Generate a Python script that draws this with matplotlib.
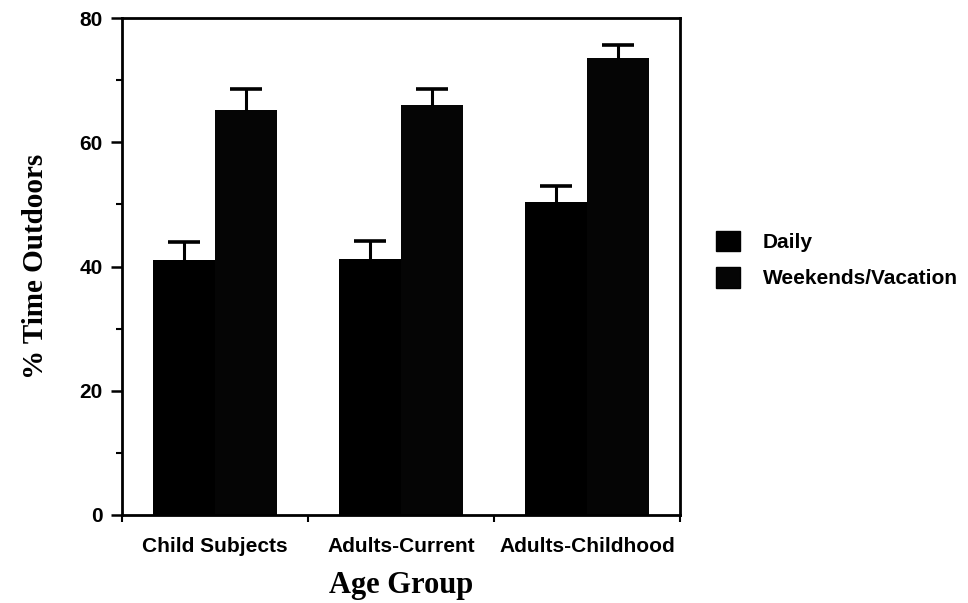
import numpy as np
import matplotlib.pyplot as plt
from matplotlib.patches import Patch
from matplotlib.ticker import FixedLocator

groups = ["Child Subjects", "Adults-Current", "Adults-Childhood"]
daily = [41.0, 41.2, 50.4]
daily_err = [2.9, 2.9, 2.6]
weekend = [65.2, 66.0, 73.6]
weekend_err = [3.4, 2.6, 2.1]
series_names = ["Daily", "Weekends/Vacation"]

SANS = "Liberation Sans"
SERIF = "Liberation Serif"

fig = plt.figure(figsize=(9.68, 6.03), dpi=100)
ax = fig.add_axes([0.126, 0.146, 0.5765, 0.824])

x = np.arange(len(groups))
w = 1 / 3
colors = ["black", "#050505"]
for off, vals, errs, col, name in [(-w / 2, daily, daily_err, colors[0], series_names[0]),
                                   (w / 2, weekend, weekend_err, colors[1], series_names[1])]:
    vals = np.array(vals)
    errs = np.array(errs)
    ax.bar(x + off, vals, w, color=col, label=name)
    # upper error bar only: stem + cap
    ax.vlines(x + off, vals, vals + errs, color="black", lw=2.2)
    ax.plot(x + off, vals + errs, ls="none", marker="_", ms=23, mew=2.6,
            color="black")

ax.set_xlim(-0.5, 2.5)
ax.set_ylim(0, 80)

# group boundaries get tick marks, labels sit under the group centres
ax.set_xticks([-0.5, 0.5, 1.5, 2.5])
ax.set_xticklabels([])
ax.xaxis.set_minor_locator(FixedLocator(x))
ax.set_xticklabels(groups, minor=True, fontsize=15, family=SANS,
                   fontweight="bold")
ax.tick_params(axis="x", which="major", direction="out", length=5, width=1.5)
ax.tick_params(axis="x", which="minor", length=0, pad=16)

ax.set_yticks([0, 20, 40, 60, 80])
ax.yaxis.set_minor_locator(FixedLocator([10, 30, 50, 70]))
ax.tick_params(axis="y", which="major", direction="out", length=8, width=1.8,
               labelsize=15, pad=6)
ax.tick_params(axis="y", which="minor", direction="out", length=4, width=1.5)
for lab in ax.get_yticklabels():
    lab.set_family(SANS)
    lab.set_fontweight("bold")

for sp in ax.spines.values():
    sp.set_linewidth(2)

ax.set_ylabel("% Time Outdoors", family=SERIF, fontweight="bold", fontsize=21,
              labelpad=22)
ax.set_xlabel("Age Group", family=SERIF, fontweight="bold", fontsize=22,
              labelpad=11)

handles = [Patch(facecolor="black", edgecolor="black"),
           Patch(facecolor="#050505", edgecolor="black")]
fig.legend(handles, series_names, loc="center left",
           bbox_to_anchor=(0.7204, 0.5697), frameon=False,
           prop={"family": SANS, "size": 15, "weight": "bold"},
           handlelength=1.15, handleheight=1.15, labelspacing=0.72,
           handletextpad=1.1)

fig.savefig("out.png", dpi=100)
